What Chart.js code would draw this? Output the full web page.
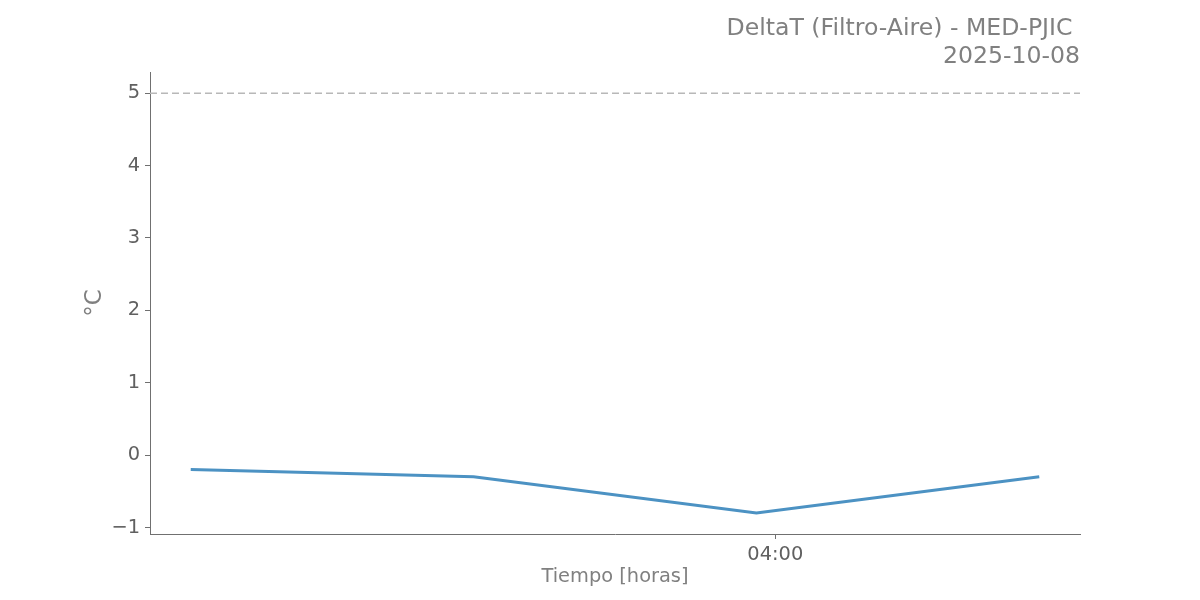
<!DOCTYPE html>
<html lang="es">
<head>
  <meta charset="utf-8">
  <title>DeltaT (Filtro-Aire) - MED-PJIC</title>
  <script src="https://cdn.jsdelivr.net/npm/chart.js"></script>
  <style>
    html, body { margin: 0; padding: 0; background: #fff; }
    #wrap { position: relative; width: 1200px; height: 600px; }
  </style>
</head>
<body>
  <div id="wrap"><canvas id="chart" width="1200" height="600"></canvas></div>
  <script>
    // datos
    const horas = ['03:29', '03:44', '03:59', '04:14'];
    const deltaT = [-0.2, -0.3, -0.8, -0.3];
    const umbral = 5;
    const xTicks = ['04:00'];
    const yTicks = [-1, 0, 1, 2, 3, 4, 5];
    const titulo = ['DeltaT (Filtro-Aire) - MED-PJIC ', '2025-10-08'];

    const toMin = s => { const [h, m] = s.split(':').map(Number); return h * 60 + m; };
    const fmt = v => String(Math.floor(v / 60)).padStart(2, '0') + ':' + String(v % 60).padStart(2, '0');

    const xs = horas.map(toMin);
    const span = xs[xs.length - 1] - xs[0];
    const xMin = xs[0] - span * 0.048, xMax = xs[xs.length - 1] + span * 0.048;
    const yLo = Math.min(...deltaT, umbral), yHi = Math.max(...deltaT, umbral);
    const yMin = yLo - (yHi - yLo) * 0.05, yMax = yHi + (yHi - yLo) * 0.05;

    const font = 'DejaVu Sans';
    const gris = '#808080';
    const eje = '#707070';

    new Chart(document.getElementById('chart'), {
      type: 'line',
      data: {
        datasets: [{
          data: xs.map((x, i) => ({ x: x, y: deltaT[i] })),
          borderColor: '#4c92c3',
          borderWidth: 3,
          pointRadius: 0,
          tension: 0,
          order: 1
        }, {
          data: [{ x: xMin, y: umbral }, { x: xMax, y: umbral }],
          borderColor: '#b8b8b8',
          borderWidth: 1.5,
          borderDash: [7, 4],
          pointRadius: 0,
          order: 2
        }]
      },
      options: {
        responsive: false,
        animation: false,
        devicePixelRatio: 1,
        layout: { padding: { left: 0, right: 120, top: 0, bottom: 0 } },
        plugins: {
          legend: { display: false },
          tooltip: { enabled: false },
          title: {
            display: true,
            text: titulo,
            align: 'end',
            color: gris,
            font: { family: font, size: 23.6, weight: 'normal', lineHeight: 1.19 },
            padding: { top: 15, bottom: 1 }
          }
        },
        scales: {
          x: {
            type: 'linear',
            min: xMin,
            max: xMax,
            afterFit: a => { a.height = 66; },
            afterBuildTicks: a => { a.ticks = xTicks.map(t => ({ value: toMin(t) })); },
            ticks: {
              color: '#606060',
              font: { family: font, size: 19.4 },
              padding: 4,
              maxRotation: 0,
              callback: v => fmt(v)
            },
            grid: { drawOnChartArea: false, drawTicks: true, tickLength: 5, tickColor: eje },
            border: { display: true, color: eje, width: 1 },
            title: {
              display: true,
              text: 'Tiempo [horas]',
              color: gris,
              font: { family: font, size: 19.4 },
              padding: { bottom: 11 }
            }
          },
          y: {
            min: yMin,
            max: yMax,
            afterFit: a => { a.width = 150; },
            afterBuildTicks: a => { a.ticks = yTicks.map(v => ({ value: v })); },
            ticks: {
              color: '#606060',
              font: { family: font, size: 19.4 },
              padding: 5,
              callback: v => (v < 0 ? '\u2212' + Math.abs(v) : String(v))
            },
            grid: { drawOnChartArea: false, drawTicks: true, tickLength: 5, tickColor: eje },
            border: { display: true, color: eje, width: 1 },
            title: {
              display: true,
              text: '°C',
              color: gris,
              font: { family: font, size: 23 },
              padding: { top: 81 }
            }
          }
        }
      }
    });
  </script>
</body>
</html>
